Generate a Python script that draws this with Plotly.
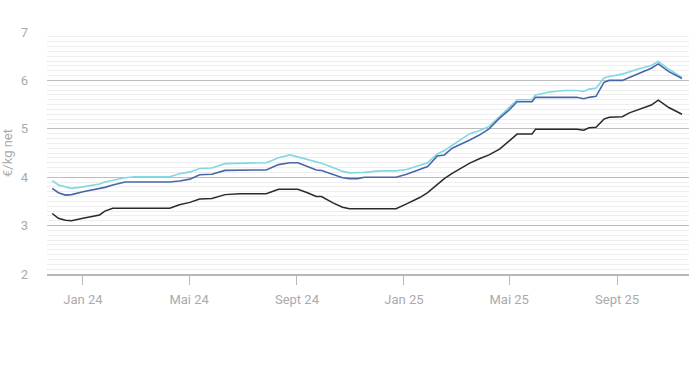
import plotly.graph_objects as go

dates = [
    "2023-11-27", "2023-12-04", "2023-12-12", "2023-12-19", "2024-01-01", "2024-01-15",
    "2024-01-20", "2024-01-26", "2024-02-04", "2024-02-18", "2024-02-29", "2024-03-17",
    "2024-04-09", "2024-04-20", "2024-05-02", "2024-05-13", "2024-05-27", "2024-06-11",
    "2024-06-28", "2024-07-15", "2024-07-28", "2024-08-11", "2024-08-24", "2024-09-02",
    "2024-09-13", "2024-09-23", "2024-09-29", "2024-10-12", "2024-10-23", "2024-10-31",
    "2024-11-09", "2024-11-17", "2024-12-04", "2024-12-23", "2025-01-04", "2025-01-19",
    "2025-01-28", "2025-02-08", "2025-02-16", "2025-02-25", "2025-03-07", "2025-03-17",
    "2025-03-28", "2025-04-08", "2025-04-20", "2025-05-01", "2025-05-10", "2025-05-27",
    "2025-05-31", "2025-06-16", "2025-07-03", "2025-07-17", "2025-07-25", "2025-07-31",
    "2025-08-08", "2025-08-17", "2025-08-23", "2025-09-07", "2025-09-15", "2025-09-26",
    "2025-10-10", "2025-10-18", "2025-10-30", "2025-11-14",
]

series_black = [
    3.25, 3.15, 3.11, 3.10, 3.15, 3.20, 3.22, 3.30, 3.36, 3.36, 3.36, 3.36,
    3.36, 3.43, 3.48, 3.55, 3.56, 3.64, 3.66, 3.66, 3.66, 3.75, 3.75, 3.75,
    3.68, 3.60, 3.60, 3.47, 3.38, 3.35, 3.35, 3.35, 3.35, 3.35, 3.45, 3.58,
    3.68, 3.86, 3.97, 4.08, 4.18, 4.29, 4.38, 4.46, 4.58, 4.76, 4.89, 4.89,
    4.99, 4.99, 4.99, 4.99, 4.97, 5.02, 5.03, 5.20, 5.24, 5.25, 5.33, 5.40,
    5.49, 5.59, 5.44, 5.30,
]

series_navy = [
    3.77, 3.68, 3.63, 3.64, 3.70, 3.75, 3.76, 3.79, 3.84, 3.90, 3.90, 3.90,
    3.90, 3.92, 3.96, 4.05, 4.06, 4.14, 4.15, 4.15, 4.15, 4.26, 4.30, 4.30,
    4.22, 4.15, 4.14, 4.06, 3.99, 3.97, 3.97, 4.00, 4.00, 4.00, 4.06, 4.16,
    4.22, 4.44, 4.46, 4.60, 4.68, 4.77, 4.87, 5.00, 5.22, 5.39, 5.56, 5.56,
    5.65, 5.65, 5.65, 5.65, 5.62, 5.65, 5.67, 5.96, 6.00, 6.00, 6.06, 6.15,
    6.25, 6.34, 6.18, 6.04,
]

series_cyan = [
    3.93, 3.84, 3.80, 3.77, 3.80, 3.85, 3.86, 3.90, 3.93, 3.99, 4.01, 4.01,
    4.01, 4.07, 4.11, 4.18, 4.19, 4.28, 4.29, 4.29, 4.30, 4.40, 4.46, 4.42,
    4.37, 4.31, 4.29, 4.20, 4.12, 4.09, 4.09, 4.10, 4.13, 4.13, 4.16, 4.24,
    4.30, 4.48, 4.55, 4.66, 4.78, 4.90, 4.96, 5.05, 5.25, 5.44, 5.60, 5.60,
    5.70, 5.76, 5.79, 5.79, 5.77, 5.82, 5.84, 6.05, 6.08, 6.13, 6.18, 6.24,
    6.31, 6.39, 6.23, 6.06,
]

tick_vals = ["2024-01-01", "2024-05-01", "2024-09-01", "2025-01-01", "2025-05-01", "2025-09-01"]
tick_text = ["Jan 24", "Mai 24", "Sept 24", "Jan 25", "Mai 25", "Sept 25"]
y_title = "€/kg net"

fig = go.Figure()
fig.add_trace(go.Scatter(x=dates, y=series_cyan, mode="lines",
                         line=dict(color="#82d8e2", width=1.6), showlegend=False))
fig.add_trace(go.Scatter(x=dates, y=series_navy, mode="lines",
                         line=dict(color="#4b66a6", width=1.6), showlegend=False))
fig.add_trace(go.Scatter(x=dates, y=series_black, mode="lines",
                         line=dict(color="#2a2a2a", width=1.5), showlegend=False))

fig.update_layout(
    width=690, height=387,
    margin=dict(l=47, r=1, t=32, b=113),
    plot_bgcolor="white", paper_bgcolor="white",
    font=dict(family="Roboto, Noto Sans, sans-serif", size=13, color="#aaaaaa"),
    xaxis=dict(
        range=["2023-11-21", "2025-11-22"],
        tickvals=tick_vals, ticktext=tick_text,
        showgrid=False, zeroline=False, automargin=False,
        showline=True, linecolor="#b8b8b8", linewidth=1.5,
        ticks="outside", ticklen=9, tickcolor="#b8b8b8", tickwidth=1.2,
        ticklabelstandoff=4,
        tickfont=dict(size=13, color="#aaaaaa"),
    ),
    yaxis=dict(
        range=[2, 7], dtick=1, tick0=0,
        showgrid=True, gridcolor="#bdbdbd", gridwidth=1.3,
        zeroline=False, showline=False, automargin=False,
        ticks="", ticklabelstandoff=18,
        tickfont=dict(size=13, color="#aaaaaa"),
        minor=dict(dtick=0.1, showgrid=True, gridcolor="#eeeeee", gridwidth=1),
        title=dict(text=y_title, font=dict(size=13, color="#aaaaaa"), standoff=8),
    ),
)

fig.write_html(
    "out.html",
    config={"displayModeBar": False},
    post_script="document.body.style.margin='0';document.body.style.overflow='hidden';",
)
